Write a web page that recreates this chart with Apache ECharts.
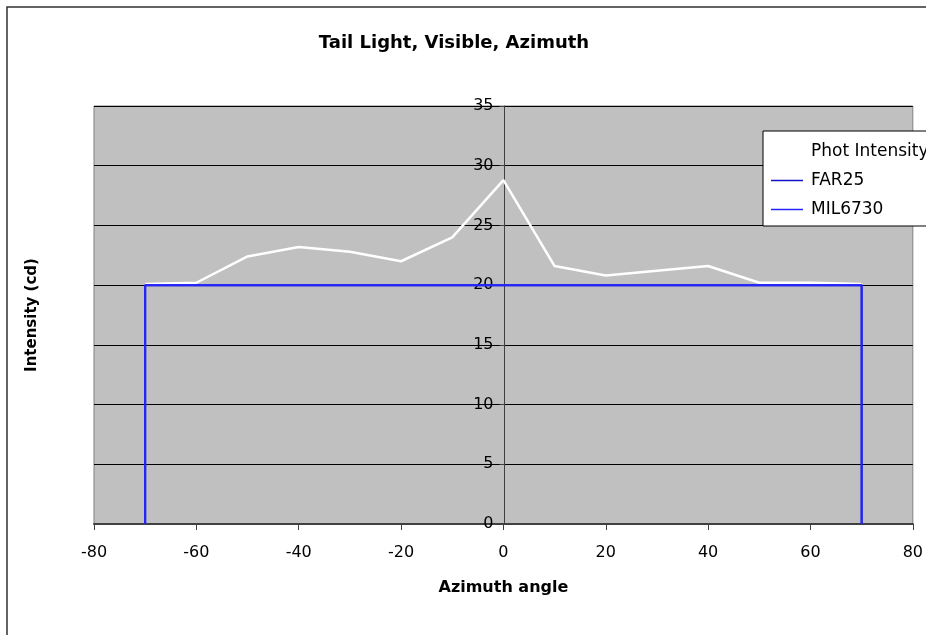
<!DOCTYPE html>
<html>
<head>
<meta charset="utf-8">
<script src="https://cdn.jsdelivr.net/npm/echarts@6/dist/echarts.min.js"></script>
<style>
  html, body { margin: 0; padding: 0; background: #fff; }
  #chart { width: 926px; height: 635px; }
</style>
</head>
<body>
<div id="chart"></div>
<script>
// Azimuth sweep, -70° to +70° in 10° steps
const azimuthAngles = [-70, -60, -50, -40, -30, -20, -10, 0, 10, 20, 30, 40, 50, 60, 70];
// Measured photometric intensity (cd)
const photIntensity = [20.1, 20.2, 22.4, 23.2, 22.8, 22.0, 24.0, 28.8, 21.6, 20.8, 21.2, 21.6, 20.2, 20.2, 20.1];
// Requirement envelopes: 20 cd between -70° and +70°
const far25Angles = [-70, -70, 70, 70];
const far25Values = [0, 20, 20, 0];
const mil6730Angles = [-70, -70, 70, 70];
const mil6730Values = [0, 20, 20, 0];
const seriesNames = ['Phot Intensity', 'FAR25', 'MIL6730'];

const FONT = 'DejaVu Sans';
const pairs = (xs, ys) => xs.map((x, i) => [x, ys[i]]);

const GRID_LEFT = 94, GRID_RIGHT = 11;
const plotWidth = 926 - GRID_LEFT - GRID_RIGHT;
// shift the value axis from the left edge to x = 0
const yAxisShift = -plotWidth * (0 - (-80)) / 160;

const chart = echarts.init(document.getElementById('chart'), null, { renderer: 'canvas' });
chart.setOption({
  backgroundColor: '#ffffff',
  animation: false,
  textStyle: { fontFamily: FONT },
  grid: {
    left: GRID_LEFT, right: GRID_RIGHT, top: 106, bottom: 111,
    show: true, backgroundColor: '#C0C0C0', borderColor: '#808080', borderWidth: 1
  },
  graphic: [
    { type: 'rect', shape: { x: 7, y: 7, width: 1200, height: 1200 },
      style: { fill: null, stroke: '#303030', lineWidth: 1.5 }, silent: true, z: 100 },
    { type: 'text', x: 454, y: 43,
      style: { text: 'Tail Light, Visible, Azimuth', font: 'bold 18px "DejaVu Sans"', fill: '#000',
               align: 'center', verticalAlign: 'middle' } },
    { type: 'text', x: 32, y: 315, rotation: Math.PI / 2,
      style: { text: 'Intensity (cd)', font: 'bold 15px "DejaVu Sans"', fill: '#000',
               align: 'center', verticalAlign: 'middle' } }
  ],
  legend: {
    orient: 'vertical', left: 763, top: 131,
    backgroundColor: '#ffffff', borderColor: '#000000', borderWidth: 1,
    padding: [12, 40, 8, 8], itemWidth: 32, itemHeight: 1.5, itemGap: 12,
    icon: 'rect',
    textStyle: { fontFamily: FONT, fontSize: 17, lineHeight: 17, color: '#000', padding: [0, 0, 0, 3] },
    data: seriesNames
  },
  xAxis: {
    type: 'value', min: -80, max: 80, interval: 20,
    name: 'Azimuth angle', nameLocation: 'middle', nameGap: 56,
    nameTextStyle: { fontFamily: FONT, fontWeight: 'bold', fontSize: 16, color: '#000' },
    axisLine: { onZero: false, lineStyle: { color: '#404040', width: 2 } },
    axisTick: { show: true, length: 6, inside: false, lineStyle: { color: '#404040' } },
    axisLabel: { fontFamily: FONT, fontSize: 16, color: '#000', margin: 21 },
    splitLine: { show: false }
  },
  yAxis: {
    type: 'value', min: 0, max: 35, interval: 5, offset: yAxisShift,
    axisLine: { show: true, onZero: false, lineStyle: { color: '#404040', width: 1 } },
    axisTick: { show: true, length: 5, inside: false, lineStyle: { color: '#404040' } },
    axisLabel: { fontFamily: FONT, fontSize: 16, color: '#000', margin: 11 },
    splitLine: { show: true, lineStyle: { color: '#000000', width: 1 } }
  },
  series: [
    { name: seriesNames[0], type: 'line', data: pairs(azimuthAngles, photIntensity),
      symbol: 'none', itemStyle: { color: '#ffffff' }, lineStyle: { color: '#ffffff', width: 2.5 }, z: 2 },
    { name: seriesNames[1], type: 'line', data: pairs(far25Angles, far25Values),
      symbol: 'none', itemStyle: { color: '#1010C8' }, lineStyle: { color: '#1010C8', width: 2 }, z: 3 },
    { name: seriesNames[2], type: 'line', data: pairs(mil6730Angles, mil6730Values),
      symbol: 'none', itemStyle: { color: '#2424FF' }, lineStyle: { color: '#2424FF', width: 2 }, z: 4 }
  ]
});
</script>
</body>
</html>
